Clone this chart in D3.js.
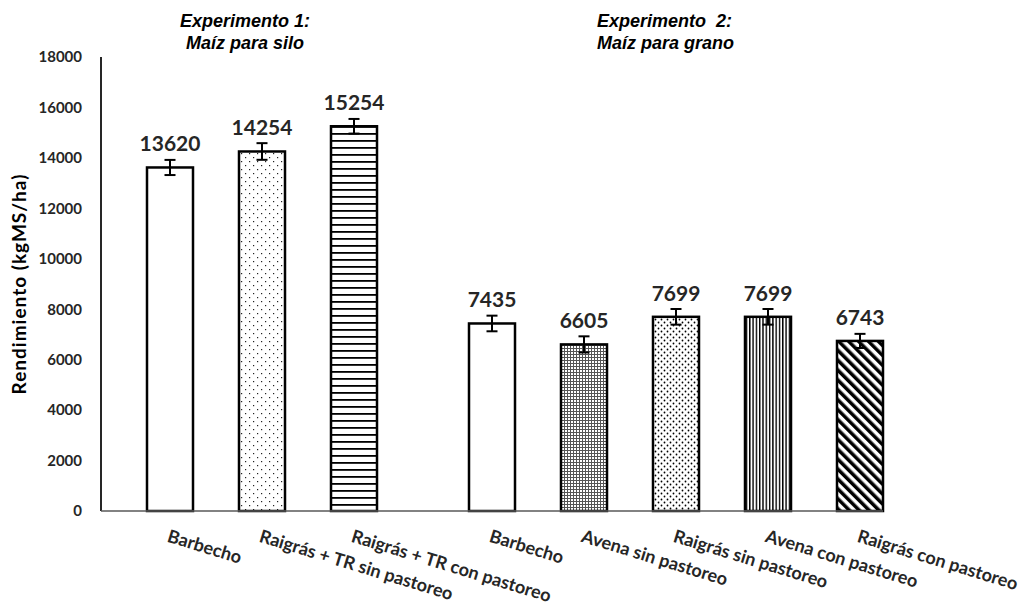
<!DOCTYPE html>
<html><head><meta charset="utf-8">
<script src="https://cdn.jsdelivr.net/npm/d3@7"></script>
<style>
html,body{margin:0;padding:0;background:#fff;}
svg{display:block;}
</style></head>
<body>
<svg id="chart" width="1025" height="609"></svg>
<script>
// ---- data ----
const exp1Categories = ["Barbecho", "Raigrás + TR sin pastoreo", "Raigrás + TR con pastoreo"];
const exp1Values = [13620, 14254, 15254];
const exp1Errors = [300, 330, 290];
const exp1Patterns = ["none", "dotsSparse", "hLines"];

const exp2Categories = ["Barbecho", "Avena sin pastoreo", "Raigrás sin pastoreo", "Avena con pastoreo", "Raigrás con pastoreo"];
const exp2Values = [7435, 6605, 7699, 7699, 6743];
const exp2Errors = [310, 320, 310, 310, 280];
const exp2Patterns = ["none", "dotsDense", "dotsMedium", "vLines", "diag"];

const yTicks = [0, 2000, 4000, 6000, 8000, 10000, 12000, 14000, 16000, 18000];
const yTitle = "Rendimiento (kgMS/ha)";
const titles1 = ["Experimento 1:", "Maíz para silo"];
const titles2 = ["Experimento  2:", "Maíz para grano"];

// ---- layout ----
const svg = d3.select("#chart");
const x0 = 101, x1 = 883, yBottom = 511, yTop = 57;
const nSlots = 17;

const bars = [];
exp1Categories.forEach((c, i) => bars.push({cat: c, value: exp1Values[i], err: exp1Errors[i], pat: exp1Patterns[i], slot: 1 + 2 * i}));
exp2Categories.forEach((c, i) => bars.push({cat: c, value: exp2Values[i], err: exp2Errors[i], pat: exp2Patterns[i], slot: 8 + 2 * i}));

const x = d3.scaleBand().domain(d3.range(nSlots)).range([x0, x1]).padding(0);
const y = d3.scaleLinear().domain([0, 18000]).range([yBottom, yTop]);

// ---- patterns ----
const defs = svg.append("defs");
function pat(id, w, h, transform) {
  const p = defs.append("pattern").attr("id", id).attr("patternUnits", "userSpaceOnUse")
    .attr("width", w).attr("height", h);
  if (transform) p.attr("patternTransform", transform);
  p.append("rect").attr("width", w).attr("height", h).attr("fill", "#fff");
  return p;
}
let p;
p = pat("dotsSparse", 8, 8);
p.append("rect").attr("x", 1).attr("y", 1).attr("width", 1.2).attr("height", 1.2).attr("fill", "#222");
p.append("rect").attr("x", 5).attr("y", 5).attr("width", 1.2).attr("height", 1.2).attr("fill", "#222");

p = pat("hLines", 10, 7);
p.append("rect").attr("x", 0).attr("y", 0).attr("width", 10).attr("height", 1.8).attr("fill", "#000");

p = pat("dotsDense", 3, 3);
p.append("rect").attr("x", 0).attr("y", 0).attr("width", 3).attr("height", 1).attr("fill", "#555");
p.append("rect").attr("x", 0).attr("y", 0).attr("width", 1).attr("height", 3).attr("fill", "#555");

p = pat("dotsMedium", 6, 6);
p.append("circle").attr("cx", 1.5).attr("cy", 1.5).attr("r", 0.9).attr("fill", "#000");
p.append("circle").attr("cx", 4.5).attr("cy", 4.5).attr("r", 0.9).attr("fill", "#000");

p = pat("vLines", 3.3, 10);
p.append("rect").attr("x", 0).attr("y", 0).attr("width", 1.4).attr("height", 10).attr("fill", "#000");

p = pat("diag", 7, 7, "rotate(-45)");
p.append("rect").attr("x", 0).attr("y", 0).attr("width", 3.5).attr("height", 7).attr("fill", "#000");

// ---- axes ----
const yAxis = d3.axisLeft(y).tickValues(yTicks).tickSize(0).tickPadding(19).tickFormat(d3.format("d"));
const gy = svg.append("g").attr("transform", `translate(${x0},0)`).call(yAxis);
gy.select(".domain").remove();
gy.selectAll("text").attr("font-family", "Lato").attr("font-weight", "bold")
  .attr("font-size", 15).attr("fill", "#262626");

svg.append("line").attr("x1", x0).attr("x2", x0).attr("y1", y(18000)).attr("y2", y(0))
  .attr("stroke", "#262626").attr("stroke-width", 2);

// ---- bars ----
const g = svg.append("g");
g.selectAll("rect.bar").data(bars).join("rect").attr("class", "bar")
  .attr("x", d => x(d.slot)).attr("width", x.bandwidth())
  .attr("y", d => y(d.value)).attr("height", d => y(0) - y(d.value))
  .attr("fill", d => d.pat === "none" ? "#fff" : `url(#${d.pat})`)
  .attr("stroke", "#000").attr("stroke-width", 2.5);

// x axis line
svg.append("line").attr("x1", x0).attr("x2", x1).attr("y1", y(0)).attr("y2", y(0))
  .attr("stroke", "#595959").attr("stroke-width", 1.5);

// error bars
const cap = 5.5;
const cx = d => x(d.slot) + x.bandwidth() / 2;
const eb = g.selectAll("g.err").data(bars).join("g").attr("class", "err")
  .attr("stroke", "#000").attr("stroke-width", 2);
eb.append("line").attr("x1", cx).attr("x2", cx)
  .attr("y1", d => y(d.value + d.err)).attr("y2", d => y(d.value - d.err));
eb.append("line").attr("x1", d => cx(d) - cap).attr("x2", d => cx(d) + cap)
  .attr("y1", d => y(d.value + d.err)).attr("y2", d => y(d.value + d.err));
eb.append("line").attr("x1", d => cx(d) - cap).attr("x2", d => cx(d) + cap)
  .attr("y1", d => y(d.value - d.err)).attr("y2", d => y(d.value - d.err));

// value labels
g.selectAll("text.val").data(bars).join("text").attr("class", "val")
  .attr("x", cx).attr("y", d => y(d.value) - 16)
  .attr("text-anchor", "middle").attr("font-family", "Lato").attr("font-weight", "bold")
  .attr("font-size", 21).attr("fill", "#262626").text(d => d.value);

// category labels
g.selectAll("text.cat").data(bars).join("text").attr("class", "cat")
  .attr("transform", d => `translate(${cx(d)},529) rotate(17)`)
  .attr("x", 0).attr("y", 13)
  .attr("text-anchor", "start").attr("font-family", "Lato").attr("font-weight", "bold")
  .attr("font-size", 18).attr("fill", "#262626").text(d => d.cat);

// y title
svg.append("text").attr("transform", `translate(26,${(y(0) + y(18000)) / 2}) rotate(-90)`)
  .attr("text-anchor", "middle").attr("font-family", "Lato").attr("font-weight", "bold")
  .attr("font-size", 19).attr("letter-spacing", 1).attr("fill", "#000").text(yTitle);

// experiment titles
const tf = "'Liberation Sans', Arial, sans-serif";
titles1.forEach((t, i) => svg.append("text").attr("x", 245).attr("y", 27 + 22 * i)
  .attr("text-anchor", "middle").attr("font-family", tf).attr("font-weight", "bold")
  .attr("font-style", "italic").attr("font-size", 18).attr("fill", "#000")
  .style("white-space", "pre").text(t));
titles2.forEach((t, i) => svg.append("text").attr("x", 597).attr("y", 27 + 22 * i)
  .attr("text-anchor", "start").attr("font-family", tf).attr("font-weight", "bold")
  .attr("font-style", "italic").attr("font-size", 18).attr("fill", "#000")
  .style("white-space", "pre").text(t));
</script>
</body></html>
